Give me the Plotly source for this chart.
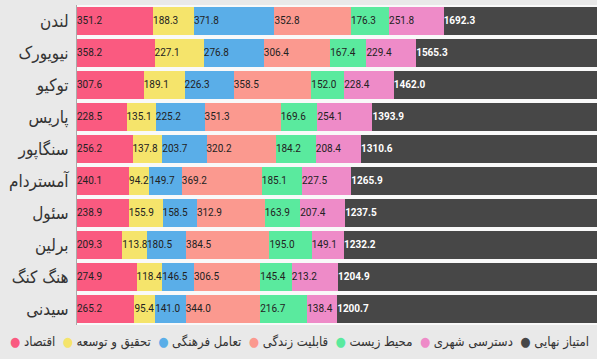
import plotly.graph_objects as go

cities = ["لندن", "نیویورک", "توکیو", "پاریس", "سنگاپور", "آمستردام", "سئول", "برلین", "هنگ کنگ", "سیدنی"]
economy = [351.2, 358.2, 307.6, 228.5, 256.2, 240.1, 238.9, 209.3, 274.9, 265.2]
research = [188.3, 227.1, 189.1, 135.1, 137.8, 94.2, 155.9, 113.8, 118.4, 95.4]
culture = [371.8, 276.8, 226.3, 225.2, 203.7, 149.7, 158.5, 180.5, 146.5, 141.0]
livability = [352.8, 306.4, 358.5, 351.3, 320.2, 369.2, 312.9, 384.5, 306.5, 344.0]
environment = [176.3, 167.4, 152.0, 169.6, 184.2, 185.1, 163.9, 195.0, 145.4, 216.7]
access = [251.8, 229.4, 228.4, 254.1, 208.4, 227.5, 207.4, 149.1, 213.2, 138.4]
total = [1692.3, 1565.3, 1462.0, 1393.9, 1310.6, 1265.9, 1237.5, 1232.2, 1204.9, 1200.7]

series = [
    ("اقتصاد", economy, "#fa5a80"),
    ("تحقیق و توسعه", research, "#f5e46b"),
    ("تعامل فرهنگی", culture, "#5aaee8"),
    ("قابلیت زندگی", livability, "#fb998f"),
    ("محیط زیست", environment, "#5aea9e"),
    ("دسترسی شهری", access, "#ee8bc8"),
    ("امتیاز نهایی", total, "#474747"),
]

fig = go.Figure()
starts = [0.0] * len(cities)
label_traces = []
for i, (name, vals, color) in enumerate(series):
    is_total = i == len(series) - 1
    fig.add_trace(go.Bar(
        y=cities, x=vals, name=name, orientation="h",
        marker=dict(color=color, line=dict(width=0)),
        hoverinfo="skip", showlegend=False,
    ))
    label_traces.append(go.Scatter(
        y=cities, x=list(starts), mode="text",
        text=[(f"<b>{v:.1f}</b>" if is_total else f"{v:.1f}") for v in vals],
        textposition="middle right", cliponaxis=False,
        textfont=dict(family="Roboto", size=10, color="#ffffff" if is_total else "#222222"),
        hoverinfo="skip", showlegend=False,
    ))
    starts = [s + v for s, v in zip(starts, vals)]
for t in label_traces:
    fig.add_trace(t)

# legend as one line of real text (dot + label per series, left to right)
LRM = "\u200e"
NB = "\u00a0"
parts = []
for name, _, color in series:
    parts.append(f"<span style='color:{color}'>●</span>{LRM}{NB}{name}{LRM}")
legend_text = (NB * 2).join(parts)
fig.add_annotation(
    text=legend_text, xref="paper", yref="paper",
    x=(299 - 77) / 520, y=-(342 - 325) / 320, xanchor="center", yanchor="middle",
    showarrow=False, font=dict(family="DejaVu Sans Condensed", size=13, color="#333333"),
)

fig.update_layout(
    width=597, height=359,
    barmode="stack", bargap=0.1,
    margin=dict(l=77, r=0, t=5, b=34),
    paper_bgcolor="#e9e9e9", plot_bgcolor="#f9f9f9",
    showlegend=False,
    xaxis=dict(range=[0, 2400], showgrid=False, zeroline=False, showticklabels=False, fixedrange=True),
    yaxis=dict(autorange="reversed", showgrid=False, showline=True, linecolor="#aaaaaa", linewidth=1,
               ticks="", ticklabelstandoff=4, automargin=False, fixedrange=True,
               tickfont=dict(family="DejaVu Sans Condensed", size=17, color="#333333")),
)

fig.write_html("out.html", config={"displayModeBar": False, "staticPlot": True},
               post_script="document.body.style.margin='0';")
